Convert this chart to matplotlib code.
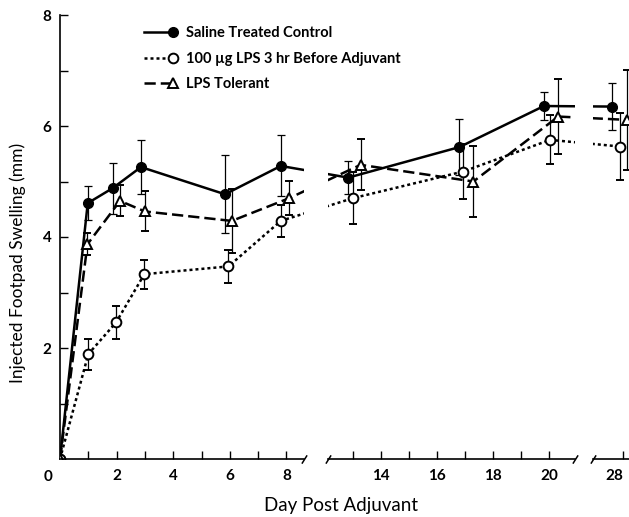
import matplotlib
matplotlib.use("Agg")
import matplotlib.pyplot as plt
from matplotlib.legend_handler import HandlerLine2D
import numpy as np

plt.rcParams['font.family'] = ['Lato', 'DejaVu Sans']

# day post adjuvant (points are slightly staggered in the original)
saline_x = [0, 0.98, 1.86, 2.86, 5.83, 7.8, 12.83, 16.8, 19.82, 27.62]
saline_y = [0, 4.61, 4.88, 5.26, 4.77, 5.28, 5.07, 5.62, 6.36, 6.35]
saline_err = [0, 0.30, 0.46, 0.49, 0.70, 0.55, 0.30, 0.50, 0.25, 0.42]

lps_x = [0, 1.0, 1.98, 2.98, 5.95, 7.8, 13.0, 16.94, 20.04, 27.9]
lps_y = [0, 1.89, 2.46, 3.33, 3.47, 4.29, 4.70, 5.18, 5.75, 5.63]
lps_err = [0, 0.28, 0.29, 0.26, 0.29, 0.29, 0.47, 0.50, 0.44, 0.60]

tol_x = [0, 0.97, 2.12, 3.0, 6.07, 8.1, 13.27, 17.3, 20.33, 28.15]
tol_y = [0, 3.87, 4.65, 4.46, 4.29, 4.70, 5.30, 5.00, 6.17, 6.11]
tol_err = [0, 0.20, 0.28, 0.36, 0.57, 0.31, 0.46, 0.64, 0.67, 0.90]

labels = ['Saline Treated Control', '100 \u00b5g LPS 3 hr Before Adjuvant', 'LPS Tolerant']

xticks = list(range(1, 9)) + list(range(13, 21)) + [28]
xlabeled = [2, 4, 6, 8, 14, 16, 18, 20, 28]

# broken x axis: pieces of the day axis and where they sit (pixels)
seg_days = [(0, 8.62), (12.107, 20.93), (26.93, 28.21)]
knot_day = [0, 8.62, 12.107, 20.93, 26.93, 28.21]
knot_px = [60, 304, 328, 575, 593, 629]


def fwd(x):
    return np.interp(x, knot_day, knot_px)


def inv(p):
    return np.interp(p, knot_px, knot_day)


fig = plt.figure(figsize=(6.29, 5.17), dpi=100)
ax = fig.add_axes([60 / 629, 58 / 517, 569 / 629, 444 / 517])
ax.set_xscale('function', functions=(fwd, inv))

kw = dict(color='black', ecolor='black', elinewidth=0.9, capsize=3, capthick=0.9, lw=1.8)
s = ax.errorbar(saline_x, saline_y, yerr=saline_err, fmt='-o', ms=7, mfc='black', mec='black', zorder=3, **kw)
d = ax.errorbar(lps_x, lps_y, yerr=lps_err, fmt='o', ls=(0, (1.2, 1.2)), ms=7, mfc='white', mec='black', mew=1.4, zorder=4, **kw)
t = ax.errorbar(tol_x, tol_y, yerr=tol_err, fmt='^', ls=(0, (4.5, 2)), ms=7.5, mfc='white', mec='black', mew=1.4, zorder=4, **kw)
handles = [s[0], d[0], t[0]]

ax.set_xlim(0, 28.21)
ax.set_ylim(0, 8)

# blank out the gaps between the axis pieces
ax.axvspan(seg_days[0][1], seg_days[1][0], color='white', zorder=5, lw=0)
ax.axvspan(seg_days[1][1], seg_days[2][0], color='white', zorder=5, lw=0)

for sp in ['top', 'right', 'bottom']:
    ax.spines[sp].set_visible(False)
ax.spines['left'].set_linewidth(1.2)

xt = ax.get_xaxis_transform()
for a, b in seg_days:
    ax.plot([a, b], [0, 0], color='black', lw=1.2, transform=xt, clip_on=False, zorder=6)
ends = [seg_days[0][1], seg_days[1][0], seg_days[1][1], seg_days[2][0]]
ax.plot(ends, [0] * len(ends), ls='none', marker=[(-1, -1.6), (1, 1.6)], ms=6, mew=1.1,
        color='black', transform=xt, clip_on=False, zorder=6)

ax.set_xticks(xticks)
ax.set_xticklabels([str(v) if v in xlabeled else '' for v in xticks])
ax.minorticks_off()
ax.tick_params(axis='x', direction='in', length=5.5, width=1, pad=7, labelsize=11)
for lab in ax.get_xticklabels():
    lab.set_fontweight('bold')
ax.get_xticklabels()[-1].set_horizontalalignment('right')
ax.get_xticklabels()[-1].set_x(28)

ax.set_yticks(range(1, 9))
ax.set_yticklabels([str(v) if v % 2 == 0 else '' for v in range(1, 9)])
ax.tick_params(axis='y', direction='in', length=5.5, width=1, pad=6, labelsize=11)
for lab in ax.get_yticklabels():
    lab.set_fontweight('bold')

fig.text(48 / 629, 1 - 477 / 517, '0', ha='center', va='center', fontsize=11, fontweight='bold')
fig.text(18 / 629, 1 - 263 / 517, 'Injected Footpad Swelling (mm)', rotation=90, ha='center', va='center', fontsize=12.5)
fig.text(341 / 629, 1 - 505 / 517, 'Day Post Adjuvant', ha='center', va='center', fontsize=13.5)


class EndMarker(HandlerLine2D):
    def create_artists(self, *args, **kwargs):
        arts = super().create_artists(*args, **kwargs)
        arts[0].set_markevery([2])
        return arts


leg = fig.legend(handles, labels, loc='upper left', bbox_to_anchor=(144 / 629, 1 - 26 / 517),
                 frameon=False, borderpad=0, borderaxespad=0, handlelength=2.0, handletextpad=0.85,
                 labelspacing=0.8, numpoints=1, prop={'size': 10.5, 'weight': 'bold'},
                 handler_map={h: EndMarker() for h in handles})

fig.savefig('out.png', dpi=100)
